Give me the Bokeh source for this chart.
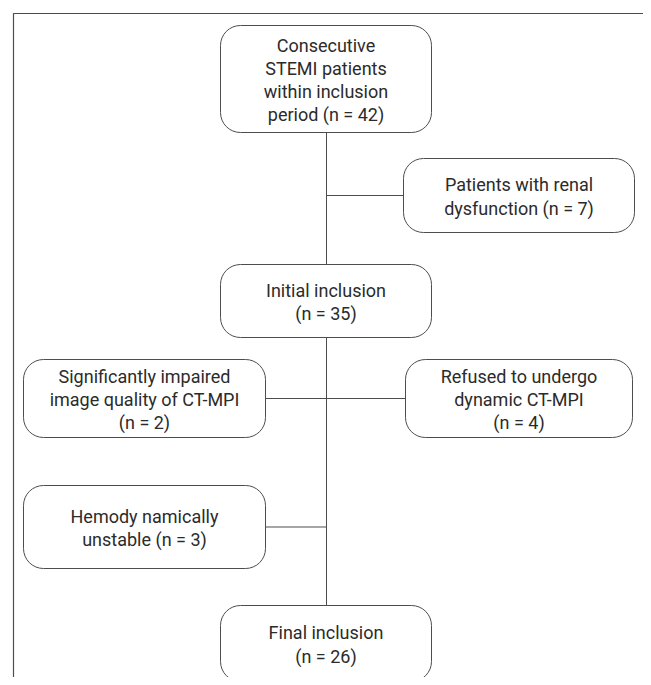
from bokeh.plotting import figure
from bokeh.models import Range1d, ColumnDataSource
from bokeh.core.properties import value
from bokeh.embed import file_html
from bokeh.resources import INLINE

# ---- data ----
labels = [
    "Consecutive\nSTEMI patients\nwithin inclusion\nperiod (n = {})",
    "Patients with renal\ndysfunction (n = {})",
    "Initial inclusion\n(n = {})",
    "Significantly impaired\nimage quality of CT-MPI\n(n = {})",
    "Refused to undergo\ndynamic CT-MPI\n(n = {})",
    "Hemody namically\nunstable (n = {})",
    "Final inclusion\n(n = {})",
]
counts = [42, 7, 35, 2, 4, 3, 26]

# ---- layout (pixel coordinates of the boxes: left, right, top, bottom) ----
boxes = [
    (220, 431, 25, 132),
    (403, 634, 158, 232),
    (220, 431, 264, 337),
    (23, 265, 359, 437),
    (405, 632, 359, 437),
    (23, 265, 485, 568),
    (220, 431, 605, 681),
]
spine_x = 326

W, H = 643, 677
p = figure(width=W, height=H, x_range=Range1d(0, W), y_range=Range1d(H, 0),
           output_backend="svg", toolbar_location=None, min_border=0)
p.axis.visible = False
p.grid.visible = False
p.outline_line_color = None
p.background_fill_color = "white"

line_col = "#4d4d4d"

# outer frame (top and left edges visible)
p.line([13, 13, 700], [720, 13, 13], line_color=line_col, line_width=1.2)

# connectors
p.segment(x0=[spine_x, spine_x], y0=[boxes[0][3], boxes[2][3]],
          x1=[spine_x, spine_x], y1=[boxes[2][2], boxes[6][2]],
          line_color=line_col, line_width=1)
p.segment(x0=[spine_x, boxes[3][1], spine_x, boxes[5][1]],
          y0=[(boxes[1][2] + boxes[1][3]) / 2, (boxes[3][2] + boxes[3][3]) / 2,
              (boxes[4][2] + boxes[4][3]) / 2, (boxes[5][2] + boxes[5][3]) / 2],
          x1=[boxes[1][0], spine_x, boxes[4][0], spine_x],
          y1=[(boxes[1][2] + boxes[1][3]) / 2, (boxes[3][2] + boxes[3][3]) / 2,
              (boxes[4][2] + boxes[4][3]) / 2, (boxes[5][2] + boxes[5][3]) / 2],
          line_color=line_col, line_width=1)

src = ColumnDataSource(dict(
    left=[b[0] for b in boxes], right=[b[1] for b in boxes],
    top=[b[2] for b in boxes], bottom=[b[3] for b in boxes],
    cx=[(b[0] + b[1]) / 2 for b in boxes], cy=[(b[2] + b[3]) / 2 + 1 for b in boxes],
    txt=[l.format(c) for l, c in zip(labels, counts)],
))
p.quad(left="left", right="right", top="top", bottom="bottom", source=src,
       fill_color="white", line_color=line_col, line_width=1, border_radius=20)
p.text(x="cx", y="cy", text="txt", source=src, text_align="center",
       text_baseline="middle", text_font=value("Roboto"),
       text_font_size="18px", text_color="#2b2b2b", text_line_height=1.1)

open("out.html", "w").write(file_html(p, INLINE))
